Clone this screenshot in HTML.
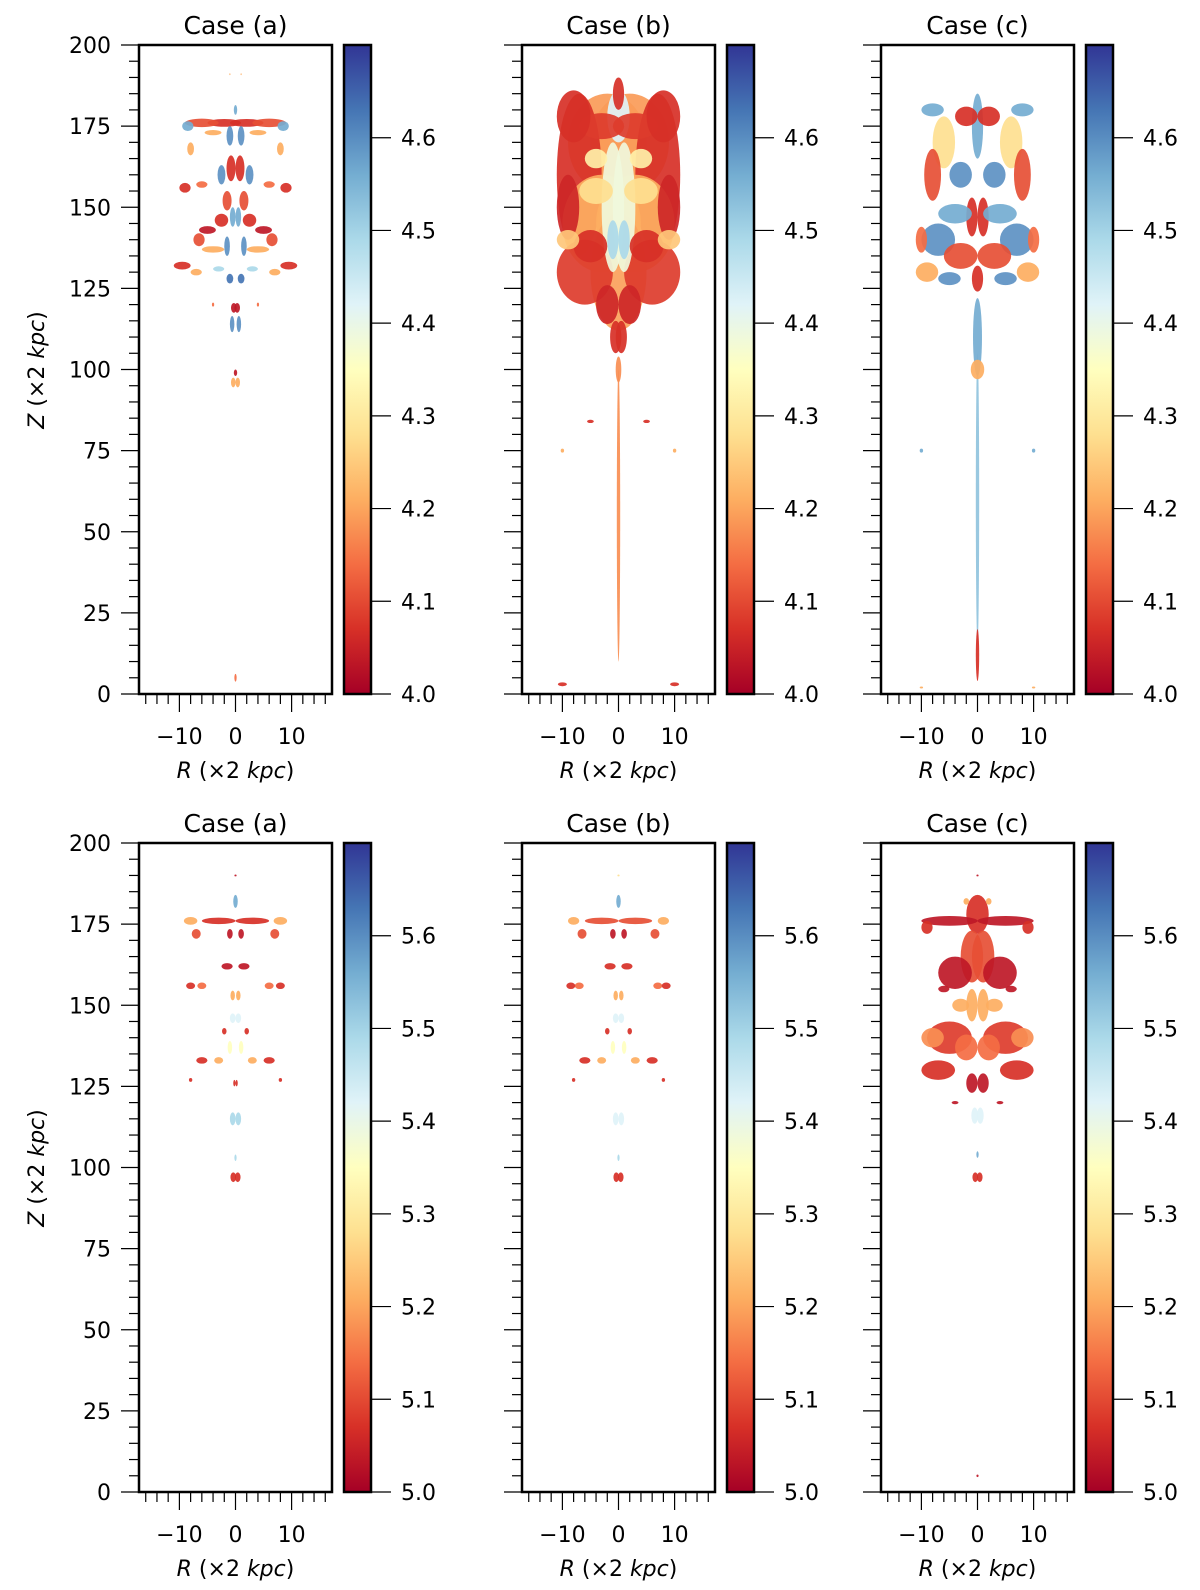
<!DOCTYPE html>
<html><head><meta charset="utf-8"><style>
body{margin:0;background:#fff;}
svg{display:block;font-family:"DejaVu Sans","Liberation Sans",sans-serif;}
</style></head><body>
<svg id="fig" width="1200" height="1590" viewBox="0 0 1200 1590" xmlns="http://www.w3.org/2000/svg">
<defs>
<linearGradient id="cmap" x1="0" y1="1" x2="0" y2="0">
<stop offset="0" stop-color="#a50026"/><stop offset="0.1" stop-color="#d73027"/><stop offset="0.2" stop-color="#f46d43"/><stop offset="0.3" stop-color="#fdae61"/><stop offset="0.4" stop-color="#fee090"/><stop offset="0.5" stop-color="#ffffbf"/><stop offset="0.6" stop-color="#e0f3f8"/><stop offset="0.7" stop-color="#abd9e9"/><stop offset="0.8" stop-color="#74add1"/><stop offset="0.9" stop-color="#4575b4"/><stop offset="1" stop-color="#313695"/>
</linearGradient>
</defs>
</svg>
<script>
// blob data: [R, Z, halfwidth R, halfheight Z, colour fraction]; mirrored about R=0
const blobsTopA=[[0,180,0.3,1.5,0.8],[2,176,3,1.2,0.1],[6,176,3,1.3,0.15],[8.5,175,1,1.5,0.8],[1,172,0.6,3,0.85],[4,173,1.5,0.8,0.3],[8,168,0.6,2,0.3],[0.8,162,0.8,4,0.1],[2.5,160,0.7,3,0.85],[1.5,152,0.8,3,0.15],[6,157,1,1,0.2],[9,156,1,1.5,0.1],[0.5,147,0.5,3,0.8],[2.5,146,1.2,2,0.1],[5,143,1.5,1.2,0.05],[6.5,140,1,2,0.15],[4,137,2,1,0.3],[1.5,138,0.5,3,0.85],[9.5,132,1.5,1.2,0.1],[7,130,1,1,0.3],[3,131,1,0.8,0.7],[1,128,0.6,1.5,0.9],[4,120,0.2,0.6,0.2],[0.3,119,0.5,1.5,0.05],[0.6,114,0.4,2.5,0.85],[0,99,0.3,1,0.05],[0.4,96,0.4,1.5,0.3],[0,5,0.2,1.2,0.2],[1,191,0.1,0.3,0.3]];
const blobsTopB=[[2,170,7,15,0.27],[7,160,4,25,0.1],[3,145,7,15,0.3],[0,130,5,18,0.28],[6,130,5,10,0.12],[1,150,2,20,0.55],[0,178,2,8,0.6],[3,175,4,4,0.12],[8,178,3,8,0.1],[9,150,2,10,0.08],[4,155,3,4,0.4],[5,138,3,5,0.1],[2,120,2,6,0.08],[0.5,110,1,5,0.1],[0,100,0.5,4,0.25],[0,185,1,5,0.1],[0,55,0.3,45,0.25],[5,84,0.6,0.5,0.1],[10,75,0.3,0.6,0.3],[10,3,0.8,0.6,0.1],[9,140,2,3,0.35],[4,165,2,3,0.45],[1,140,1,6,0.7]];
const blobsTopC=[[0,60,0.3,45,0.75],[0,12,0.3,8,0.1],[0,110,0.8,12,0.8],[0,100,1.2,3,0.3],[0,175,1,10,0.8],[2,178,2,3,0.1],[6,170,2,8,0.4],[8,160,1.5,8,0.15],[3,160,2,4,0.85],[1,147,1,6,0.1],[4,148,3,3,0.8],[7,140,3,5,0.85],[3,135,3,4,0.15],[9,130,2,3,0.3],[5,128,2,2,0.85],[10,140,1,4,0.2],[0,128,1,4,0.1],[8,180,2,2,0.8],[10,75,0.3,0.6,0.8],[10,2,0.3,0.3,0.3]];
const blobsBotA=[[0,182,0.4,2,0.8],[3,176,3,1,0.1],[8,176,1.2,1.2,0.3],[7,172,0.8,1.5,0.15],[1,172,0.5,1.5,0.05],[1.5,162,1,1,0.05],[6,156,0.8,1,0.2],[8,156,0.8,1,0.1],[0.5,153,0.4,1.5,0.3],[0.5,146,0.5,1.5,0.6],[2,142,0.4,1,0.1],[1,137,0.4,2,0.5],[3,133,0.8,1,0.3],[6,133,1,1,0.1],[8,127,0.3,0.6,0.1],[0.2,126,0.2,1,0.1],[0.5,115,0.5,2,0.7],[0,103,0.2,1,0.7],[0.4,97,0.5,1.5,0.1],[0,190,0.2,0.3,0.05]];
const blobsBotB=[[0,182,0.4,2,0.8],[3,176,3,1,0.15],[8,176,1,1.2,0.3],[6.5,172,0.8,1.5,0.15],[1,172,0.5,1.5,0.05],[1.5,162,1,1,0.1],[7,156,0.8,1,0.2],[8.5,156,0.8,1,0.1],[0.5,153,0.4,1.5,0.3],[0.5,146,0.5,1.5,0.6],[2,142,0.4,1,0.1],[1,137,0.4,2,0.5],[3,133,0.8,1,0.3],[6,133,1,1,0.1],[8,127,0.3,0.6,0.1],[0.5,115,0.5,2,0.6],[0,103,0.2,1,0.7],[0.4,97,0.5,1.5,0.1],[0,190,0.2,0.3,0.4]];
const blobsBotC=[[0,178,2,6,0.1],[5,176,5,1.5,0.05],[9,174,1,2,0.1],[1,165,2,8,0.15],[4,160,3,5,0.05],[1,150,1,5,0.3],[5,140,4,5,0.12],[2,137,2,4,0.2],[7,130,3,3,0.1],[8,140,2,3,0.25],[1,126,1,3,0.05],[4,120,0.6,0.5,0.05],[0.5,116,0.6,2.5,0.6],[0,104,0.2,1,0.8],[0.4,97,0.5,1.5,0.1],[0,5,0.2,0.4,0.05],[3,150,1.5,2,0.3],[6,155,1,1,0.05],[0,190,0.2,0.3,0.05],[2,182,0.5,1,0.3]];
const titles=["Case (a)","Case (b)","Case (c)"];
const zTicks=[0,25,50,75,100,125,150,175,200];
const rTicks=[-10,0,10];
const cbTicksTop=[4.0,4.1,4.2,4.3,4.4,4.5,4.6];
const cbTicksBot=[5.0,5.1,5.2,5.3,5.4,5.5,5.6];

const NS="http://www.w3.org/2000/svg";
const svg=document.getElementById('fig');
const stops=["#a50026","#d73027","#f46d43","#fdae61","#fee090","#ffffbf","#e0f3f8","#abd9e9","#74add1","#4575b4","#313695"];
function cmap(f){f=Math.max(0,Math.min(1,f));const i=Math.min(9,Math.floor(f*10));const t=f*10-i;
 const a=stops[i],b=stops[i+1];const c=k=>Math.round(parseInt(a.substr(k,2),16)*(1-t)+parseInt(b.substr(k,2),16)*t);
 return `rgb(${c(1)},${c(3)},${c(5)})`;}
function mk(tag,attrs,parent){const e=document.createElementNS(NS,tag);for(const k in attrs)e.setAttribute(k,attrs[k]);(parent||svg).appendChild(e);return e;}
function txt(x,y,s,size,anchor,parent){const t=mk('text',{x:x,y:y,'font-size':size,'text-anchor':anchor||'middle',fill:'#000'},parent);t.textContent=s;return t;}

const FW=193,FH=649,RMAX=17.2;
function panel(x0,y0,blobs,title,cbTicks,cbMin,showZ){
 const g=mk('g',{});
 
 
 const sx=r=>x0+FW/2+r*(FW/(2*RMAX));
 const sy=z=>y0+FH-z*(FH/200);
 for(const b of blobs){
  const sides=b[0]===0?[1]:[1,-1];
  for(const s of sides){
   const e=mk('ellipse',{cx:sx(s*b[0]),cy:sy(b[1]),rx:b[2]*FW/(2*RMAX),ry:b[3]*FH/200,fill:cmap(b[4]),opacity:0.92},g);
   
   
  }
 }
 const fr=mk('rect',{x:x0,y:y0,width:FW,height:FH,fill:'none',stroke:'#000','stroke-width':2.5},g);
 
 
 const tt=txt(x0+FW/2,y0-11,title,25,'middle',g);
 
 
 for(let z=0;z<=200;z+=5){const maj=z%25===0;mk('line',{x1:x0,x2:x0-(maj?18:10),y1:sy(z),y2:sy(z),stroke:'#000','stroke-width':1.2},g);}
 if(showZ){for(const z of zTicks){const t=txt(x0-28,sy(z)+8,String(z),22,'end',g);}}
 for(let r=-16;r<=16;r+=2){const maj=r%10===0;mk('line',{x1:sx(r),x2:sx(r),y1:y0+FH,y2:y0+FH+(maj?18:10),stroke:'#000','stroke-width':1.2},g);}
 for(const r of rTicks){const t=txt(sx(r),y0+FH+50,r<0?'\u2212'+(-r):String(r),22,'middle',g);}
 const xl=mk('text',{x:sx(0),y:y0+FH+84,'font-size':22,'text-anchor':'middle'},g);
 xl.innerHTML='<tspan font-style="italic">R</tspan> (×2 <tspan font-style="italic">kpc</tspan>)';
 
 
 if(showZ){const yl=mk('text',{x:0,y:0,'font-size':22,'text-anchor':'middle',transform:`translate(44,${y0+325}) rotate(-90)`},g);
  yl.innerHTML='<tspan font-style="italic">Z</tspan> (×2 <tspan font-style="italic">kpc</tspan>)';
  
  }
 const cx=x0+FW+12,cw=27;
 const cb=mk('rect',{x:cx,y:y0,width:cw,height:FH,fill:'url(#cmap)',stroke:'#000','stroke-width':2.5},g);
 
 
 const cyv=v=>y0+FH-(v-cbMin)/0.7*FH;
 for(const v of cbTicks){mk('line',{x1:cx+cw,x2:cx+cw+20,y1:cyv(v),y2:cyv(v),stroke:'#000','stroke-width':1.2},g);
  const t=txt(cx+cw+30,cyv(v)+8,v.toFixed(1),22,'start',g);}
}
const xs=[139,522,881];
const topB=[blobsTopA,blobsTopB,blobsTopC],botB=[blobsBotA,blobsBotB,blobsBotC];
for(let i=0;i<3;i++){panel(xs[i],45,topB[i],titles[i],cbTicksTop,4.0,i===0);}
for(let i=0;i<3;i++){panel(xs[i],843,botB[i],titles[i],cbTicksBot,5.0,i===0);}
</script>
</body></html>
